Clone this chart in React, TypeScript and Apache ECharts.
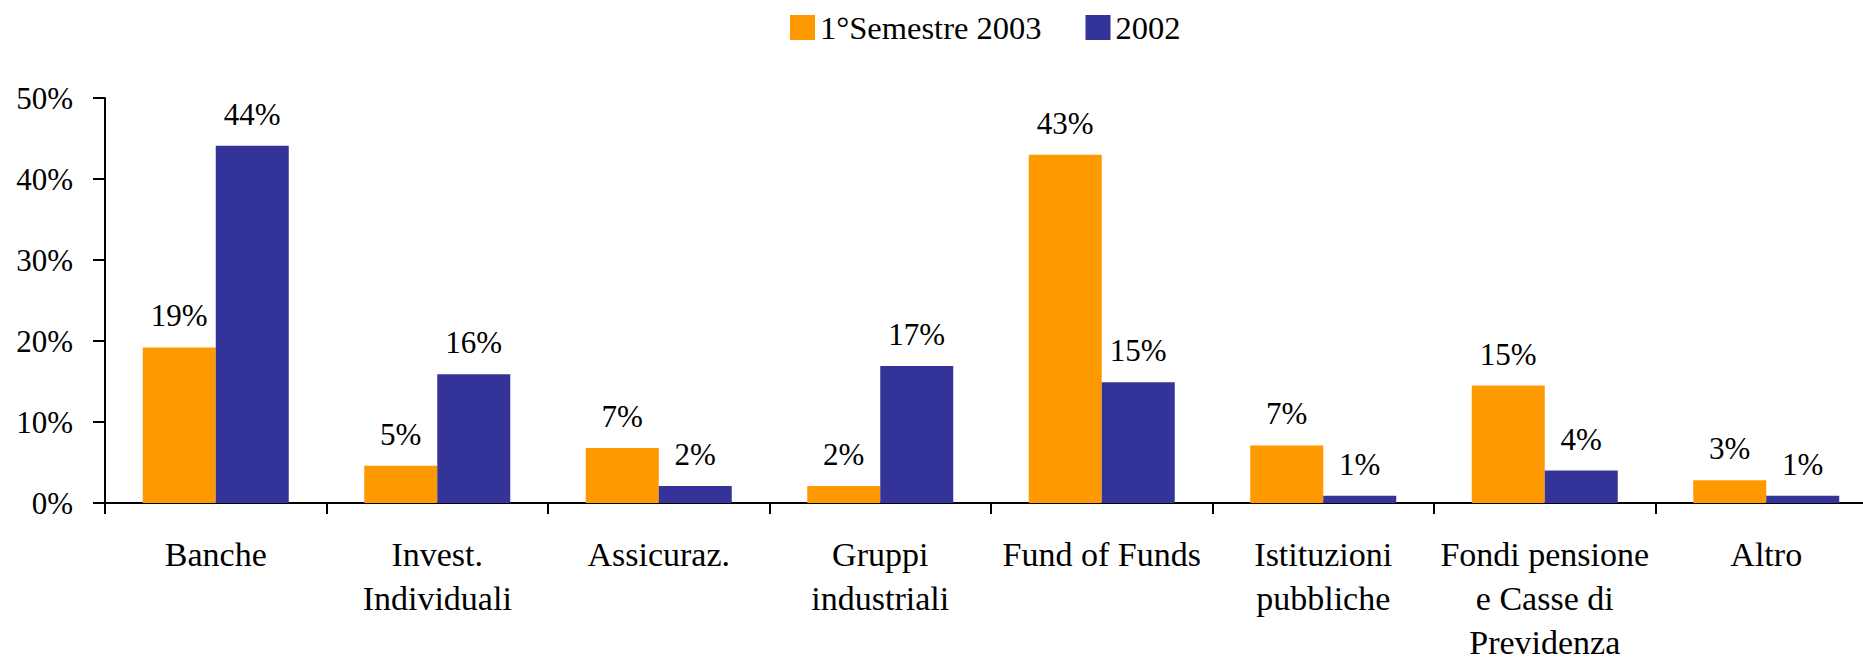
import React, { useEffect, useRef } from "react";
import * as echarts from "echarts";

const categories = [
  "Banche",
  "Invest.\nIndividuali",
  "Assicuraz.",
  "Gruppi\nindustriali",
  "Fund of Funds",
  "Istituzioni\npubbliche",
  "Fondi pensione\ne Casse di\nPrevidenza",
  "Altro",
];
const seriesNames = ["1°Semestre 2003", "2002"];
const semestre2003 = [19.2, 4.6, 6.8, 2.1, 43.0, 7.1, 14.5, 2.8];
const anno2002 = [44.1, 15.9, 2.1, 16.9, 14.9, 0.9, 4.0, 0.9];
const yTicks = [0, 10, 20, 30, 40, 50];

const FONT = "Liberation Serif";

export default function App() {
  const ref = useRef<HTMLDivElement>(null);
  useEffect(() => {
    document.body.style.margin = "0";
    document.body.style.overflow = "hidden";
    const chart = echarts.init(ref.current!, undefined, { renderer: "svg" });
    const labelCfg = {
      show: true,
      position: "top" as const,
      distance: 16,
      color: "#000",
      fontFamily: FONT,
      fontSize: 31,
      formatter: (p: any) => Math.round(p.value) + "%",
    };
    chart.setOption({
      animation: false,
      backgroundColor: "#fff",
      textStyle: { fontFamily: FONT, color: "#000" },
      legend: {
        left: 785,
        top: 6,
        itemWidth: 25,
        itemHeight: 25,
        itemGap: 44,
        icon: "rect",
        textStyle: { fontFamily: FONT, fontSize: 32.5, color: "#000" },
        data: seriesNames,
      },
      grid: {
        left: 105,
        right: -14,
        top: 98,
        bottom: 161,
        containLabel: false,
        outerBoundsMode: "none",
      },
      xAxis: {
        type: "category",
        data: categories,
        axisLine: { lineStyle: { color: "#000", width: 2 } },
        axisTick: { show: true, length: 11, lineStyle: { color: "#000", width: 2 } },
        axisLabel: {
          interval: 0,
          margin: 29,
          fontFamily: FONT,
          fontSize: 34,
          lineHeight: 44,
          color: "#000",
          align: "center",
        },
      },
      yAxis: {
        type: "value",
        min: yTicks[0],
        max: yTicks[yTicks.length - 1],
        interval: 10,
        axisLine: { show: true, lineStyle: { color: "#000", width: 2 } },
        axisTick: { show: true, length: 12, lineStyle: { color: "#000", width: 2 } },
        splitLine: { show: false },
        axisLabel: {
          margin: 32,
          fontFamily: FONT,
          fontSize: 31,
          color: "#000",
          formatter: (v: number) => v + "%",
        },
      },
      series: [
        {
          name: seriesNames[0],
          type: "bar",
          data: semestre2003,
          barWidth: 73,
          barGap: "0%",
          itemStyle: { color: "#FF9900" },
          label: labelCfg,
        },
        {
          name: seriesNames[1],
          type: "bar",
          data: anno2002,
          barWidth: 73,
          barGap: "0%",
          itemStyle: { color: "#333399" },
          label: labelCfg,
        },
      ],
    });
    return () => chart.dispose();
  }, []);
  return <div ref={ref} style={{ width: 1863, height: 664 }} />;
}
